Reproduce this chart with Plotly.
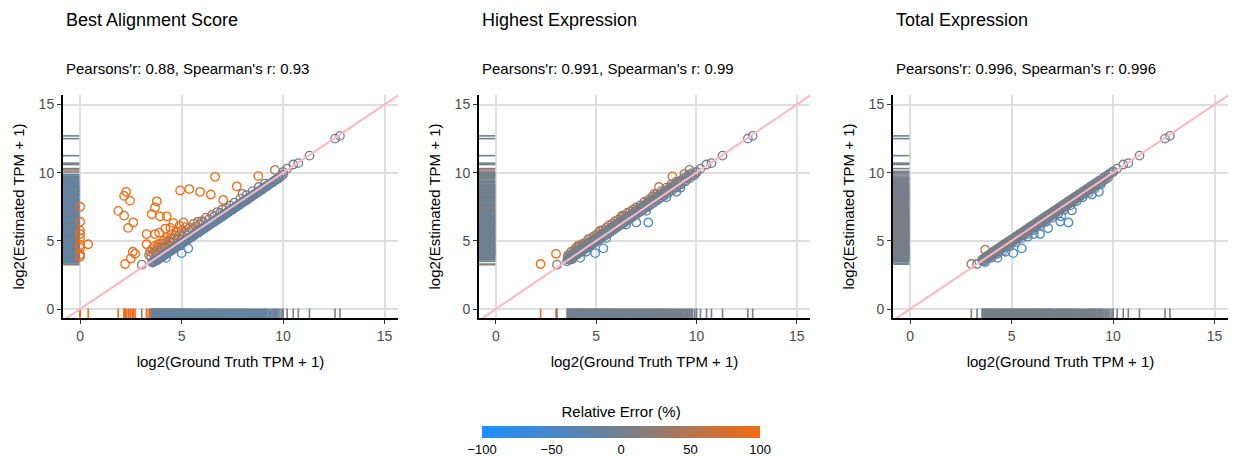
import numpy as np
import plotly.graph_objects as go

# ---------------- data ----------------
panel_titles = ["Best Alignment Score", "Highest Expression", "Total Expression"]
panel_subtitles = ["Pearsons'r: 0.88, Spearman's r: 0.93",
                   "Pearsons'r: 0.991, Spearman's r: 0.99",
                   "Pearsons'r: 0.996, Spearman's r: 0.996"]
x_title = "log2(Ground Truth TPM + 1)"
y_title = "log2(Estimated TPM + 1)"
tick_vals = [0, 5, 10, 15]
cbar_ticks = [-100, -50, 0, 50, 100]
cbar_title = "Relative Error (%)"

# dense band of transcripts (ground truth, shared by the three methods)
band_truth = [3.55, 3.60, 3.68, 3.72, 3.80, 3.85, 3.90, 3.97, 4.03, 4.10,
              4.15, 4.22, 4.28, 4.35, 4.40, 4.47, 4.53, 4.60, 4.66, 4.72,
              4.80, 4.85, 4.92, 4.98, 5.05, 5.12, 5.18, 5.25, 5.30, 5.38,
              5.45, 5.50, 5.58, 5.65, 5.70, 5.78, 5.85, 5.90, 5.98, 6.05,
              6.12, 6.20, 6.27, 6.35, 6.42, 6.50, 6.58, 6.65, 6.73, 6.80,
              6.88, 6.95, 7.03, 7.10, 7.20, 7.28, 7.35, 7.45, 7.52, 7.60,
              7.70, 7.78, 7.87, 7.95, 8.05, 8.13, 8.22, 8.30, 8.40, 8.50,
              8.60, 8.70, 8.80, 8.90, 9.00, 9.10, 9.20, 9.32, 9.45, 9.55,
              9.68, 9.80, 9.90, 10.00]
band_est_best = [3.42, 3.50, 3.50, 3.60, 3.58, 3.70, 3.70, 3.80, 3.82, 3.92,
                 3.95, 4.05, 4.05, 4.18, 4.20, 4.28, 4.32, 4.42, 4.45, 4.55,
                 4.58, 4.68, 4.70, 4.80, 4.82, 4.95, 4.96, 5.08, 5.10, 5.20,
                 5.22, 5.33, 5.36, 5.48, 5.50, 5.60, 5.62, 5.74, 5.76, 5.88,
                 5.90, 6.02, 6.05, 6.18, 6.20, 6.32, 6.36, 6.48, 6.50, 6.62,
                 6.66, 6.78, 6.80, 6.92, 6.98, 7.10, 7.14, 7.28, 7.30, 7.42,
                 7.48, 7.60, 7.65, 7.78, 7.85, 7.96, 8.00, 8.14, 8.20, 8.32,
                 8.40, 8.52, 8.60, 8.72, 8.80, 8.92, 9.00, 9.15, 9.26, 9.38,
                 9.50, 9.64, 9.74, 9.86]
band_est_highest = [3.50, 3.62, 3.63, 3.75, 3.76, 3.88, 3.87, 3.99, 3.98, 4.12,
                    4.10, 4.24, 4.22, 4.37, 4.35, 4.49, 4.48, 4.62, 4.60, 4.74,
                    4.75, 4.87, 4.86, 5.00, 4.99, 5.14, 5.12, 5.27, 5.24, 5.40,
                    5.39, 5.52, 5.52, 5.67, 5.64, 5.80, 5.78, 5.92, 5.92, 6.07,
                    6.06, 6.22, 6.20, 6.37, 6.35, 6.52, 6.51, 6.67, 6.66, 6.82,
                    6.82, 6.97, 6.96, 7.12, 7.13, 7.30, 7.28, 7.47, 7.45, 7.62,
                    7.63, 7.80, 7.80, 7.97, 7.98, 8.15, 8.15, 8.32, 8.33, 8.52,
                    8.52, 8.72, 8.72, 8.92, 8.92, 9.12, 9.12, 9.34, 9.37, 9.57,
                    9.60, 9.82, 9.82, 10.02]
band_est_total = [3.62, 3.66, 3.76, 3.79, 3.88, 3.92, 3.98, 4.06, 4.10, 4.20,
                  4.23, 4.32, 4.35, 4.45, 4.47, 4.57, 4.60, 4.70, 4.73, 4.82,
                  4.88, 4.95, 5.00, 5.08, 5.13, 5.22, 5.25, 5.35, 5.38, 5.48,
                  5.53, 5.60, 5.66, 5.75, 5.78, 5.88, 5.93, 6.00, 6.06, 6.15,
                  6.20, 6.30, 6.35, 6.45, 6.50, 6.60, 6.66, 6.75, 6.81, 6.90,
                  6.96, 7.05, 7.11, 7.20, 7.28, 7.38, 7.43, 7.55, 7.60, 7.70,
                  7.78, 7.88, 7.95, 8.05, 8.13, 8.23, 8.30, 8.40, 8.48, 8.60,
                  8.68, 8.80, 8.88, 9.00, 9.08, 9.20, 9.28, 9.42, 9.53, 9.65,
                  9.76, 9.90, 9.98, 10.10]

# second row of the dense band
band2_truth = [3.58, 3.65, 3.75, 3.83, 3.88, 3.94, 4.00, 4.07, 4.13, 4.19,
               4.25, 4.31, 4.38, 4.43, 4.50, 4.57, 4.63, 4.69, 4.76, 4.83,
               4.89, 4.95, 5.02, 5.09, 5.15, 5.22, 5.28, 5.34, 5.42, 5.48,
               5.54, 5.62, 5.68, 5.74, 5.82, 5.88, 5.95, 6.02, 6.09, 6.16,
               6.24, 6.31, 6.39, 6.46, 6.54, 6.62, 6.70, 6.77, 6.85, 6.92,
               7.00, 7.07, 7.15, 7.24, 7.32, 7.40, 7.48, 7.56, 7.65, 7.74,
               7.83, 7.91, 8.00, 8.09, 8.18, 8.27, 8.35, 8.45, 8.55, 8.65,
               8.75, 8.85, 8.95, 9.05, 9.15, 9.26, 9.38, 9.50, 9.62, 9.75]
band2_est_best = [3.40, 3.48, 3.58, 3.65, 3.72, 3.76, 3.84, 3.89, 3.97, 4.01,
                  4.09, 4.13, 4.22, 4.25, 4.34, 4.39, 4.47, 4.51, 4.60, 4.65,
                  4.73, 4.77, 4.86, 4.91, 4.99, 5.04, 5.12, 5.16, 5.26, 5.30,
                  5.38, 5.44, 5.52, 5.56, 5.66, 5.70, 5.79, 5.84, 5.93, 5.98,
                  6.08, 6.13, 6.23, 6.28, 6.38, 6.44, 6.54, 6.59, 6.69, 6.74,
                  6.84, 6.89, 6.99, 7.06, 7.16, 7.22, 7.32, 7.38, 7.49, 7.56,
                  7.67, 7.73, 7.84, 7.91, 8.02, 8.09, 8.19, 8.27, 8.39, 8.47,
                  8.59, 8.67, 8.79, 8.87, 8.99, 9.08, 9.22, 9.32, 9.46, 9.57]
band2_est_highest = [3.78, 3.85, 3.95, 4.03, 4.08, 4.15, 4.20, 4.28, 4.33, 4.40,
                     4.45, 4.52, 4.58, 4.64, 4.70, 4.78, 4.83, 4.90, 4.96, 5.04,
                     5.09, 5.16, 5.22, 5.30, 5.35, 5.43, 5.48, 5.56, 5.62, 5.70,
                     5.74, 5.83, 5.88, 5.96, 6.02, 6.10, 6.15, 6.24, 6.29, 6.38,
                     6.44, 6.52, 6.59, 6.68, 6.74, 6.84, 6.90, 6.98, 7.05, 7.14,
                     7.20, 7.28, 7.35, 7.45, 7.52, 7.62, 7.68, 7.78, 7.85, 7.96,
                     8.03, 8.12, 8.20, 8.30, 8.38, 8.48, 8.55, 8.66, 8.75, 8.85,
                     8.95, 9.05, 9.15, 9.25, 9.35, 9.46, 9.58, 9.70, 9.82, 9.95]
band2_est_total = [3.50, 3.55, 3.66, 3.72, 3.80, 3.85, 3.90, 3.98, 4.03, 4.10,
                   4.15, 4.22, 4.28, 4.34, 4.40, 4.47, 4.53, 4.59, 4.66, 4.72,
                   4.79, 4.85, 4.92, 4.98, 5.05, 5.11, 5.18, 5.24, 5.32, 5.37,
                   5.44, 5.51, 5.58, 5.63, 5.72, 5.77, 5.85, 5.91, 5.99, 6.05,
                   6.14, 6.20, 6.29, 6.35, 6.44, 6.51, 6.60, 6.66, 6.75, 6.81,
                   6.90, 6.96, 7.05, 7.13, 7.22, 7.29, 7.38, 7.45, 7.55, 7.63,
                   7.73, 7.80, 7.90, 7.98, 8.08, 8.16, 8.25, 8.34, 8.45, 8.54,
                   8.65, 8.74, 8.85, 8.94, 9.05, 9.15, 9.28, 9.39, 9.52, 9.64]

# highly expressed transcripts (same in all panels)
high_truth = [10.0, 10.2, 10.5, 10.75, 11.3, 12.56, 12.8]
high_est = [10.05, 10.3, 10.6, 10.7, 11.25, 12.5, 12.7]

# other transcripts, per method
best_truth = [0.0, 0.0, 0.0, 0.0, 0.0, 0.0, 0.0, 0.0, 0.0, 0.4,
              2.27, 2.17, 2.46, 1.88, 2.17, 2.62, 2.37, 2.60, 2.71, 2.50, 2.22,
              3.78, 3.69, 3.53, 3.94, 4.27, 3.28, 3.69, 3.28, 3.04,
              4.93, 5.38, 5.91, 6.44, 6.65, 7.72, 8.78, 9.60,
              5.00, 5.33, 4.24, 3.78,
              4.60, 4.20, 4.90, 3.90, 4.45, 5.10,
              3.40, 3.45, 3.50, 3.55, 3.60, 3.65, 3.70, 3.75, 3.80, 3.85,
              3.90, 3.95, 4.00, 4.05, 4.10, 4.15, 4.20, 4.25, 4.30, 4.35,
              4.40, 4.45, 4.50, 4.55, 4.60, 4.70, 4.75, 4.80, 4.90, 5.00,
              5.05, 5.15, 5.20, 5.30, 5.40, 5.50, 5.60, 5.70, 5.80, 5.90,
              6.00, 6.10, 6.20, 6.35, 6.50, 6.60, 6.75, 6.90, 7.00, 7.20,
              7.40, 7.60, 7.90, 8.20, 8.50, 8.80, 9.10, 8.00, 7.05]
best_est = [7.50, 6.40, 5.75, 5.50, 5.20, 4.70, 4.50, 4.00, 3.85, 4.75,
            8.60, 8.30, 7.95, 7.20, 6.85, 6.35, 5.95, 4.20, 4.05, 3.70, 3.30,
            7.90, 7.45, 6.95, 6.80, 6.80, 5.50, 5.50, 4.75, 3.25,
            8.70, 8.80, 8.60, 8.40, 9.70, 9.00, 9.75, 10.20,
            4.10, 4.45, 3.75, 3.65,
            6.30, 5.90, 6.10, 5.60, 5.95, 6.35,
            3.95, 4.20, 3.85, 4.40, 4.10, 4.60, 4.20, 4.05, 4.50, 4.75,
            4.30, 4.55, 4.80, 4.40, 5.00, 4.60, 4.50, 4.90, 5.25, 4.70,
            4.95, 5.15, 5.50, 4.90, 5.20, 5.40, 5.70, 5.15, 5.40, 5.75,
            5.35, 5.60, 6.00, 5.60, 5.95, 5.85, 6.25, 6.05, 6.40, 6.20,
            6.45, 6.35, 6.70, 6.60, 6.90, 6.80, 7.10, 7.05, 7.30, 7.40,
            7.60, 7.80, 8.10, 8.35, 8.65, 8.95, 9.20, 8.45, 8.00]

highest_truth = [2.23, 3.00, 3.05, 8.13, 8.80, 9.65, 9.40,
                 4.95, 5.36, 4.20, 7.00, 7.60, 9.00, 3.80,
                 3.60, 3.75, 3.90, 4.00, 4.15, 4.30, 4.45, 4.60, 4.75, 4.90,
                 5.05, 5.20, 5.35, 5.50, 5.65, 5.80, 5.95, 6.10, 6.25, 6.40,
                 6.55, 6.70, 6.85, 7.00, 7.20, 7.40, 7.60, 7.80, 8.00, 8.25,
                 8.50, 8.75, 9.00, 4.10, 5.20, 6.30, 7.90,
                 4.50, 5.50, 6.50, 7.50, 8.50, 9.20]
highest_est = [3.30, 4.05, 3.25, 8.95, 9.73, 10.20, 9.90,
               4.10, 4.45, 3.75, 6.35, 6.35, 8.60, 3.65,
               3.95, 4.20, 4.30, 4.50, 4.55, 4.75, 4.85, 5.10, 5.20, 5.35,
               5.50, 5.70, 5.80, 5.95, 6.15, 6.25, 6.45, 6.55, 6.75, 6.85,
               7.05, 7.15, 7.30, 7.45, 7.60, 7.85, 8.00, 8.25, 8.40, 8.65,
               8.90, 9.15, 9.35, 4.65, 5.75, 6.85, 8.45,
               4.20, 5.20, 6.20, 7.20, 8.20, 8.90]

total_truth = [3.02, 3.30, 3.70,
               5.08, 5.50, 4.30, 6.40, 6.80, 7.40, 7.80, 7.97, 7.45, 9.30,
               8.96, 4.70, 5.80, 6.10,
               3.70, 4.00, 4.30, 4.60, 4.90, 5.20, 5.50, 5.80, 6.10, 6.40,
               6.70, 7.00, 7.30, 7.60, 7.90, 8.20, 8.50, 8.80, 9.10, 9.40]
total_est = [3.30, 3.30, 4.35,
             4.10, 4.45, 3.75, 5.50, 5.93, 6.42, 6.35, 7.23, 6.80, 8.60,
             8.40, 4.20, 5.30, 5.50,
             3.45, 3.75, 4.05, 4.30, 4.60, 4.90, 5.20, 5.50, 5.80, 6.10,
             6.40, 6.70, 7.00, 7.30, 7.60, 7.90, 8.20, 8.50, 8.85, 9.15]

panels = [
    (best_truth + band2_truth + band_truth + high_truth,
     best_est + band2_est_best + band_est_best + high_est),
    (highest_truth + band2_truth + band_truth + high_truth,
     highest_est + band2_est_highest + band_est_highest + high_est),
    (total_truth + band2_truth + band_truth + high_truth,
     total_est + band2_est_total + band_est_total + high_est),
]

# ---------------- style ----------------
FONT = "Liberation Sans, Arial, Helvetica, sans-serif"
colorscale = [[0.0, "#1E90FF"], [0.5, "#708090"], [1.0, "#F56A10"]]
x_range = [-0.84, 15.66]
y_range = [-0.66, 15.7]
x_domains = [[63 / 1236, 398 / 1236], [479 / 1236, 810 / 1236], [893 / 1236, 1228 / 1236]]
y_domain = [1 - 318 / 456, 1 - 95 / 456]


def rel_error(truth, est):
    t = 2.0 ** np.asarray(truth) - 1
    e = 2.0 ** np.asarray(est) - 1
    with np.errstate(divide="ignore", invalid="ignore"):
        r = np.where(t > 0, (e / np.where(t > 0, t, 1) - 1) * 100, 100.0)
    return np.clip(r, -100, 100)


fig = go.Figure()

for i, (truth, est) in enumerate(panels):
    xa = "x" if i == 0 else f"x{i+1}"
    ya = "y" if i == 0 else f"y{i+1}"
    err = rel_error(truth, est)
    n = len(truth)
    # left rug (estimated values)
    fig.add_trace(go.Scatter(
        x=[-0.45] * n, y=est, xaxis=xa, yaxis=ya, mode="markers",
        marker=dict(symbol="line-ew-open", size=12, color=err, cmin=-100, cmax=100,
                    colorscale=colorscale, line=dict(width=1.6)),
        hoverinfo="skip", showlegend=False))
    # bottom rug (ground truth values)
    fig.add_trace(go.Scatter(
        x=truth, y=[-0.33] * n, xaxis=xa, yaxis=ya, mode="markers",
        marker=dict(symbol="line-ns-open", size=7, color=err, cmin=-100, cmax=100,
                    colorscale=colorscale, line=dict(width=1.6)),
        hoverinfo="skip", showlegend=False))
    # points
    marker = dict(symbol="circle-open", size=8.5, color=err, cmin=-100, cmax=100,
                  colorscale=colorscale, line=dict(width=1.3), showscale=(i == 0))
    if i == 0:
        marker["colorbar"] = dict(
            orientation="h", x=0.5025, xanchor="center", y=0.102, yanchor="top",
            len=278 / 1236, lenmode="fraction", thickness=12, thicknessmode="pixels",
            outlinewidth=0, xpad=0, ypad=0,
            title=dict(text=cbar_title, side="top", font=dict(size=15, color="black", family=FONT)),
            tickvals=cbar_ticks, ticks="", tickfont=dict(size=13, color="black", family=FONT))
    fig.add_trace(go.Scatter(
        x=truth, y=est, xaxis=xa, yaxis=ya, mode="markers", marker=marker,
        showlegend=False))
    # identity line
    fig.add_trace(go.Scatter(
        x=[-1, 16], y=[-1, 16], xaxis=xa, yaxis=ya, mode="lines",
        line=dict(color="#FFB6C1", width=2), hoverinfo="skip", showlegend=False))

    axis_common = dict(showgrid=True, gridcolor="#DEDEDE", gridwidth=1.8, zeroline=False,
                       showline=True, linecolor="black", linewidth=2, ticks="outside",
                       ticklen=4, tickwidth=1.2, tickcolor="#333333",
                       tickvals=tick_vals, tickfont=dict(size=14, color="#4D4D4D", family=FONT))
    xkey = "xaxis" if i == 0 else f"xaxis{i+1}"
    ykey = "yaxis" if i == 0 else f"yaxis{i+1}"
    fig.layout[xkey] = dict(axis_common, domain=x_domains[i], range=x_range, anchor=ya,
                            title=dict(text=x_title, font=dict(size=15, color="black", family=FONT),
                                       standoff=14))
    fig.layout[ykey] = dict(axis_common, domain=y_domain, range=y_range, anchor=xa,
                            title=dict(text=y_title, font=dict(size=15, color="black", family=FONT),
                                       standoff=10))
    fig.add_annotation(text=panel_titles[i], xref="paper", yref="paper",
                       x=x_domains[i][0] + 1 / 1236, y=1 - 20 / 456, xanchor="left", yanchor="middle",
                       showarrow=False, font=dict(size=18, color="black", family=FONT))
    fig.add_annotation(text=panel_subtitles[i], xref="paper", yref="paper",
                       x=x_domains[i][0] + 1 / 1236, y=1 - 69 / 456, xanchor="left", yanchor="middle",
                       showarrow=False, font=dict(size=15, color="black", family=FONT))

fig.update_layout(width=1236, height=456, margin=dict(l=0, r=0, t=0, b=0, autoexpand=False),
                  paper_bgcolor="white", plot_bgcolor="white",
                  font=dict(family=FONT))
fig.write_html("out.html", config={"displayModeBar": False},
               post_script="document.body.style.margin='0';document.body.style.overflow='hidden';")
